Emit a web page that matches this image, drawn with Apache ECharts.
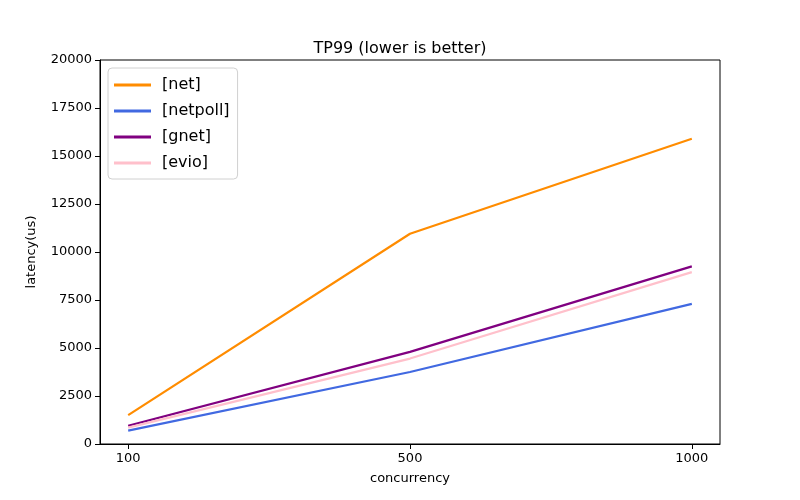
<!DOCTYPE html>
<html><head><meta charset="utf-8">
<script src="https://cdn.jsdelivr.net/npm/echarts@6/dist/echarts.min.js"></script>
<style>html,body{margin:0;padding:0;background:#fff}#c{width:800px;height:500px}</style>
</head><body><div id="c"></div>
<script>
const categories = ['100', '500', '1000'];
const yTicks = [0, 2500, 5000, 7500, 10000, 12500, 15000, 17500, 20000];
const netData = [1500, 10950, 15900];
const netpollData = [700, 3750, 7300];
const gnetData = [950, 4800, 9250];
const evioData = [850, 4450, 8950];

const seriesDefs = [
  { name: '[net]', data: netData, color: '#ff8c00' },
  { name: '[netpoll]', data: netpollData, color: '#4169e1' },
  { name: '[gnet]', data: gnetData, color: '#800080' },
  { name: '[evio]', data: evioData, color: '#ffc0cb' }
];

const font = 'DejaVu Sans';
const chart = echarts.init(document.getElementById('c'), null, { renderer: 'canvas' });
chart.setOption({
  animation: false,
  backgroundColor: '#fff',
  title: {
    text: 'TP99 (lower is better)', left: 'center', top: 36,
    textStyle: { fontFamily: font, fontSize: 16, fontWeight: 'normal', color: '#000' }
  },
  legend: {
    orient: 'vertical', left: 108, top: 68,
    backgroundColor: '#fff', borderColor: '#d0d0d0', borderWidth: 1, borderRadius: 4,
    padding: [9, 8, 8, 6], itemGap: 10, itemWidth: 37, itemHeight: 3,
    icon: 'rect',
    textStyle: { fontFamily: font, fontSize: 16, color: '#000', padding: [0, 0, 0, 6] },
    data: seriesDefs.map(s => s.name)
  },
  grid: {
    left: 100, right: 80, top: 60, bottom: 56, show: true,
    borderColor: '#000', borderWidth: 1, containLabel: false
  },
  xAxis: {
    type: 'value', min: -0.1, max: 2.1,
    name: 'concurrency', nameLocation: 'middle', nameGap: 28,
    nameTextStyle: { fontFamily: font, fontSize: 13, color: '#000' },
    axisLine: { show: true, onZero: false, lineStyle: { color: '#000' } },
    axisTick: { show: true, length: 5, inside: false, customValues: [0, 1, 2], lineStyle: { color: '#000' } },
    axisLabel: {
      customValues: [0, 1, 2], fontFamily: font, fontSize: 13, color: '#000', margin: 8,
      formatter: v => categories[Math.round(v)]
    },
    splitLine: { show: false }
  },
  yAxis: {
    type: 'value', min: 0, max: 20000, interval: 2500,
    name: 'latency(us)', nameLocation: 'middle', nameGap: 62, nameRotate: 90,
    nameTextStyle: { fontFamily: font, fontSize: 13, color: '#000' },
    axisLine: { show: true, onZero: false, lineStyle: { color: '#000' } },
    axisTick: { show: true, length: 5, lineStyle: { color: '#000' } },
    axisLabel: { fontFamily: font, fontSize: 13, color: '#000', margin: 8,
      formatter: v => (yTicks.includes(v) ? String(v) : '') },
    splitLine: { show: false }
  },
  series: seriesDefs.map(s => ({
    name: s.name, type: 'line', symbol: 'none',
    data: s.data.map((v, i) => [i, v]),
    lineStyle: { color: s.color, width: 2.2 },
    itemStyle: { color: s.color }
  }))
});
</script></body></html>
